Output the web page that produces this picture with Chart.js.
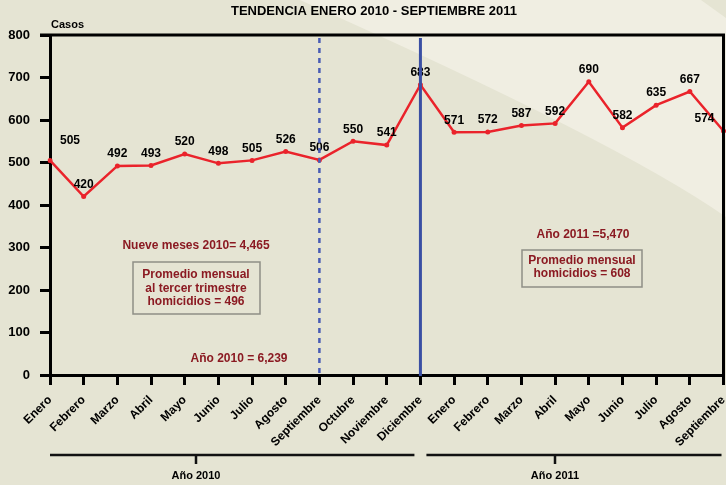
<!DOCTYPE html>
<html>
<head>
<meta charset="utf-8">
<script src="https://cdn.jsdelivr.net/npm/chart.js@4/dist/chart.umd.min.js"></script>
<style>
  html, body { margin: 0; padding: 0; background: #e5e4d3; }
  #wrap { width: 726px; height: 485px; }
</style>
</head>
<body>
<div id="wrap"><canvas id="tendencia" width="726" height="485"></canvas></div>
<script>
const meses = ['Enero', 'Febrero', 'Marzo', 'Abril', 'Mayo', 'Junio', 'Julio', 'Agosto', 'Septiembre',
  'Octubre', 'Noviembre', 'Diciembre',
  'Enero', 'Febrero', 'Marzo', 'Abril', 'Mayo', 'Junio', 'Julio', 'Agosto', 'Septiembre'];
const casos = [505, 420, 492, 493, 520, 498, 505, 526, 506, 550, 541, 683,
  571, 572, 587, 592, 690, 582, 635, 667, 574];
const yTicks = [0, 100, 200, 300, 400, 500, 600, 700, 800];
const titulo = 'TENDENCIA ENERO 2010 - SEPTIEMBRE 2011';
const periodos = ['Año 2010', 'Año 2011'];
const corteTrimestre = 8;   // Septiembre 2010
const corteAnio = 11;       // Diciembre 2010

const FUENTE = '"Liberation Sans", Arial, sans-serif';
const ROJO_OSCURO = '#8b1a22';

// fondo con la franja clara en diagonal
const fondo = {
  id: 'fondo',
  beforeDraw(chart) {
    const c = chart.ctx;
    c.save();
    c.fillStyle = '#e5e4d3';
    c.fillRect(0, 0, chart.width, chart.height);
    c.fillStyle = '#f0eee2';
    c.beginPath();
    c.moveTo(300, 0);
    c.quadraticCurveTo(619, 142, 726, 217);
    c.lineTo(726, 18);
    c.lineTo(701, 0);
    c.closePath();
    c.fill();
    c.restore();
  }
};

// etiquetas de valores, lineas verticales y marco
const marcas = {
  id: 'marcas',
  afterDatasetsDraw(chart) {
    const c = chart.ctx;
    const meta = chart.getDatasetMeta(0);
    const area = chart.chartArea;
    const xs = chart.scales.x;
    const ultimo = casos.length - 1;

    c.save();
    c.font = 'bold 12px ' + FUENTE;
    c.fillStyle = '#000';
    c.textAlign = 'center';
    c.textBaseline = 'middle';
    meta.data.forEach((p, i) => {
      let x = p.x, y = p.y - 12;
      if (i === 0) { x += 20; y = p.y - 20; }
      if (i === ultimo) { x -= 19; }
      c.fillText(String(casos[i]), x, y);
    });

    // linea punteada (tercer trimestre)
    let x = xs.getPixelForValue(corteTrimestre);
    c.strokeStyle = '#4a5db5';
    c.lineWidth = 2.5;
    c.setLineDash([5, 5]);
    c.beginPath();
    c.moveTo(x, area.top + 3);
    c.lineTo(x, area.bottom);
    c.stroke();
    c.setLineDash([]);

    // linea solida (fin de 2010)
    x = xs.getPixelForValue(corteAnio);
    c.strokeStyle = '#3a4fa3';
    c.lineWidth = 3;
    c.beginPath();
    c.moveTo(x, area.top + 3);
    c.lineTo(x, area.bottom + 1);
    c.stroke();

    // marco superior y derecho
    c.strokeStyle = '#000';
    c.lineWidth = 3;
    c.beginPath();
    c.moveTo(area.left - 10, area.top);
    c.lineTo(area.right, area.top);
    c.lineTo(area.right, area.bottom);
    c.stroke();
    c.restore();
  }
};

// textos, recuadros y llaves de periodo
const notas = {
  id: 'notas',
  afterDraw(chart) {
    const c = chart.ctx;
    const xs = chart.scales.x;
    c.save();
    c.font = 'bold 11px ' + FUENTE;
    c.fillStyle = '#000';
    c.textAlign = 'left';
    c.textBaseline = 'middle';
    c.fillText('Casos', 51, 25);

    c.font = 'bold 13px ' + FUENTE;
    c.textAlign = 'center';
    c.fillText(titulo, 374, 11);

    // llaves de periodo
    const tramos = [
      [xs.getPixelForValue(0), xs.getPixelForValue(corteAnio) - 6, 196],
      [xs.getPixelForValue(corteAnio) + 6, xs.getPixelForValue(casos.length - 1) - 2, 555]
    ];
    c.strokeStyle = '#111';
    c.lineWidth = 2.5;
    c.font = 'bold 11px ' + FUENTE;
    tramos.forEach((t, i) => {
      c.beginPath();
      c.moveTo(t[0], 455);
      c.lineTo(t[1], 455);
      c.moveTo(t[2], 455);
      c.lineTo(t[2], 464);
      c.stroke();
      c.fillText(periodos[i], t[2], 476);
    });

    // anotaciones en rojo oscuro
    c.fillStyle = ROJO_OSCURO;
    c.font = 'bold 12px ' + FUENTE;
    c.fillText('Nueve meses 2010= 4,465', 196, 246);
    c.fillText('Año 2010 = 6,239', 239, 359);
    c.fillText('Año 2011 =5,470', 583, 235);

    c.strokeStyle = '#8e8e86';
    c.lineWidth = 1.5;
    c.strokeRect(133, 262, 127, 52);
    c.strokeRect(522, 250, 120, 37);

    c.fillText('Promedio mensual', 196, 275);
    c.fillText('al tercer trimestre', 196, 288.5);
    c.fillText('homicidios = 496', 196, 302);
    c.fillText('Promedio mensual', 582, 261);
    c.fillText('homicidios = 608', 582, 274);
    c.restore();
  }
};

new Chart(document.getElementById('tendencia'), {
  type: 'line',
  data: {
    labels: meses,
    datasets: [{
      label: 'Casos',
      data: casos,
      borderColor: '#ea232b',
      backgroundColor: '#ea232b',
      borderWidth: 2.5,
      pointRadius: 2.5,
      pointBorderWidth: 0,
      pointHoverRadius: 2.5,
      tension: 0,
      fill: false
    }]
  },
  options: {
    responsive: false,
    animation: false,
    events: [],
    layout: { padding: { top: 35, right: -1, left: 0, bottom: 0 } },
    plugins: {
      legend: { display: false },
      title: { display: false },
      tooltip: { enabled: false }
    },
    scales: {
      x: {
        offset: false,
        grid: { drawOnChartArea: false, drawTicks: true, tickLength: 10, color: '#000', lineWidth: 3 },
        border: { color: '#000', width: 3 },
        ticks: {
          color: '#000',
          autoSkip: false,
          minRotation: 45,
          maxRotation: 45,
          padding: 8,
          font: { family: FUENTE, weight: 'bold', size: 12 }
        },
        afterFit(s) { s.height = 110; s.paddingLeft = 0; s.paddingRight = 0; }
      },
      y: {
        min: yTicks[0],
        max: yTicks[yTicks.length - 1],
        afterBuildTicks(s) { s.ticks = yTicks.map(v => ({ value: v })); },
        grid: { drawOnChartArea: false, drawTicks: true, tickLength: 10, color: '#000', lineWidth: 3 },
        border: { color: '#000', width: 3 },
        ticks: {
          color: '#000',
          padding: 10,
          font: { family: FUENTE, weight: 'bold', size: 13 }
        },
        afterFit(s) { s.width = 50; }
      }
    }
  },
  plugins: [fondo, marcas, notas]
});
</script>
</body>
</html>
